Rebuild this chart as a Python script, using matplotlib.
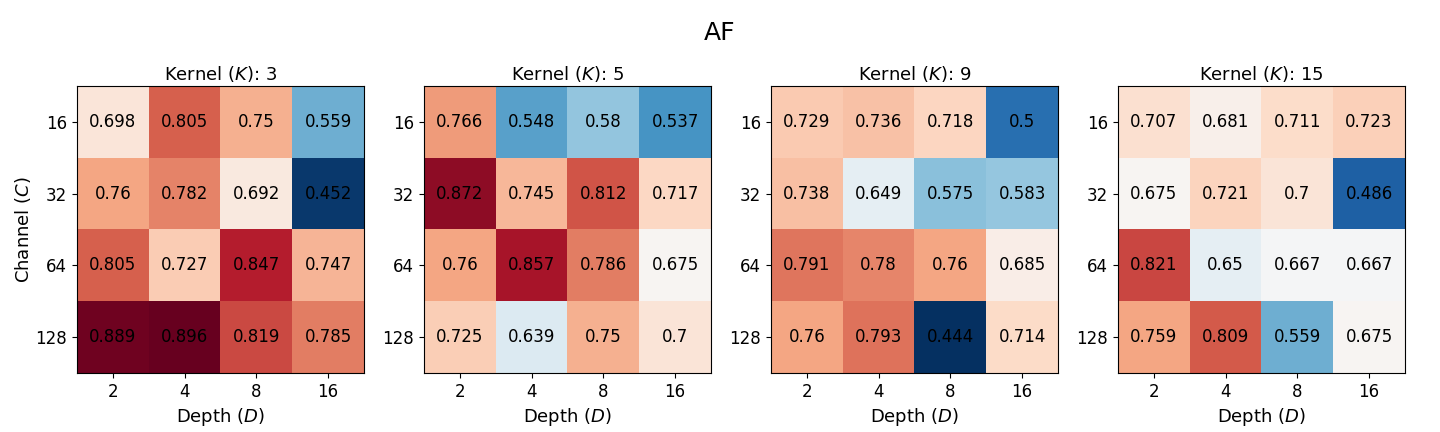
import numpy as np
import matplotlib

matplotlib.use("Agg")
import matplotlib.pyplot as plt

depths = ["2", "4", "8", "16"]
channels = ["16", "32", "64", "128"]
kernels = ["3", "5", "9", "15"]

# rows = channel, cols = depth
k3 = [[0.698, 0.805, 0.75, 0.559],
      [0.76, 0.782, 0.692, 0.452],
      [0.805, 0.727, 0.847, 0.747],
      [0.889, 0.896, 0.819, 0.785]]
k5 = [[0.766, 0.548, 0.58, 0.537],
      [0.872, 0.745, 0.812, 0.717],
      [0.76, 0.857, 0.786, 0.675],
      [0.725, 0.639, 0.75, 0.7]]
k9 = [[0.729, 0.736, 0.718, 0.5],
      [0.738, 0.649, 0.575, 0.583],
      [0.791, 0.78, 0.76, 0.685],
      [0.76, 0.793, 0.444, 0.714]]
k15 = [[0.707, 0.681, 0.711, 0.723],
       [0.675, 0.721, 0.7, 0.486],
       [0.821, 0.65, 0.667, 0.667],
       [0.759, 0.809, 0.559, 0.675]]

grids = [np.array(g) for g in (k3, k5, k9, k15)]
vmin = min(g.min() for g in grids)
vmax = max(g.max() for g in grids)

fig = plt.figure(figsize=(14.4, 4.32), dpi=100)
fig.suptitle("AF", fontsize=18, y=1 - 33 / 432, va="center")

W, H = 1440, 432
for i, (grid, k) in enumerate(zip(grids, kernels)):
    left = 77 + i * 347
    ax = fig.add_axes([left / W, 1 - 373 / H, 287 / W, 287 / H])
    ax.imshow(grid, cmap="RdBu_r", vmin=vmin, vmax=vmax, aspect="auto")
    for r in range(grid.shape[0]):
        for c in range(grid.shape[1]):
            ax.text(c, r, f"{grid[r, c]:g}", ha="center", va="center",
                    fontsize=12, color="black")
    ax.set_xticks(range(len(depths)))
    ax.set_xticklabels(depths, fontsize=12)
    ax.set_yticks(range(len(channels)))
    ax.set_yticklabels(channels, fontsize=12)
    ax.set_title(f"Kernel ($K$): {k}", fontsize=13, pad=4)
    ax.set_xlabel("Depth ($D$)", fontsize=13)
    if i == 0:
        ax.set_ylabel("Channel ($C$)", fontsize=13, labelpad=2)

fig.savefig("out.png", dpi=100)
